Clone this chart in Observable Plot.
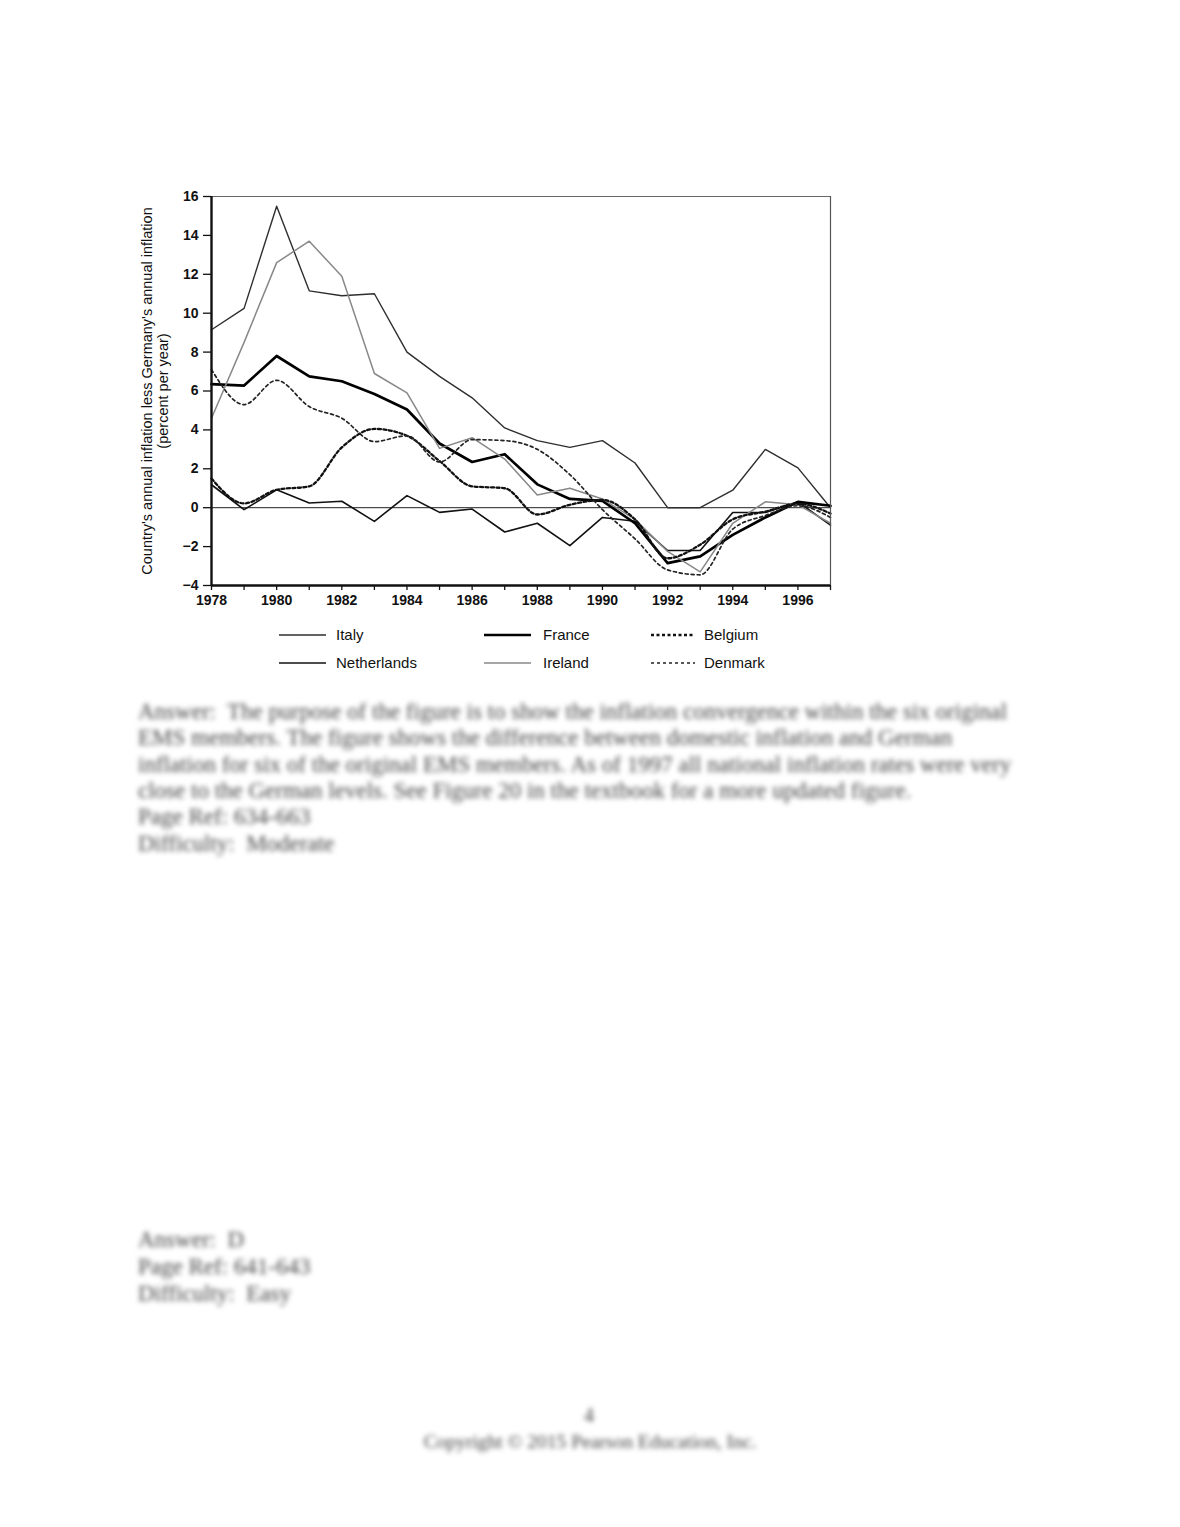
<!DOCTYPE html>
<html><head><meta charset="utf-8">
<script src="https://cdn.jsdelivr.net/npm/d3@7"></script>
<script src="https://cdn.jsdelivr.net/npm/@observablehq/plot@0.6"></script>
<style>
body{margin:0;background:#fff;width:1180px;height:1527px;position:relative;overflow:hidden;font-family:"Liberation Sans",Arial,sans-serif;}
#chart{position:absolute;left:0;top:0;}
.leg{position:absolute;font-size:15px;color:#111;white-space:nowrap;line-height:18px;}
.leg svg{position:absolute;}
.blur{position:absolute;font-family:"Liberation Serif","Times New Roman",serif;font-size:23px;line-height:26px;color:#444;filter:blur(2.6px);white-space:nowrap;}
</style></head>
<body>
<div id="chart"></div>
<div id="legend"></div>
<div class="blur" style="left:138px;top:699px">Answer:&nbsp; The purpose of the figure is to show the inflation convergence within the six original</div>
<div class="blur" style="left:138px;top:725px">EMS members. The figure shows the difference between domestic inflation and German</div>
<div class="blur" style="left:138px;top:752px">inflation for six of the original EMS members. As of 1997 all national inflation rates were very</div>
<div class="blur" style="left:138px;top:778px">close to the German levels. See Figure 20 in the textbook for a more updated figure.</div>
<div class="blur" style="left:138px;top:804px">Page Ref: 634-663</div>
<div class="blur" style="left:138px;top:831px">Difficulty:&nbsp; Moderate</div>
<div class="blur" style="left:138px;top:1227px">Answer:&nbsp; D</div>
<div class="blur" style="left:138px;top:1254px">Page Ref: 641-643</div>
<div class="blur" style="left:138px;top:1281px">Difficulty:&nbsp; Easy</div>
<div class="blur" style="left:584px;top:1402px;font-size:20px">4</div>
<div class="blur" style="left:0;width:1180px;text-align:center;top:1429px;font-size:19.5px">Copyright © 2015 Pearson Education, Inc.</div>
<script>
const years = d3.range(1978, 1998);
const italy       = [9.15, 10.25, 15.5, 11.15, 10.9, 11.0, 8.0, 6.75, 5.65, 4.1, 3.45, 3.1, 3.45, 2.3, 0.0, 0.0, 0.9, 3.0, 2.05, 0.0];
const netherlands = [1.18, -0.1, 0.92, 0.24, 0.33, -0.7, 0.62, -0.24, -0.07, -1.25, -0.8, -1.95, -0.5, -0.7, -2.2, -2.2, -0.25, -0.25, 0.3, -0.9];
const france      = [6.35, 6.28, 7.8, 6.75, 6.5, 5.85, 5.05, 3.3, 2.35, 2.75, 1.2, 0.45, 0.35, -0.8, -2.85, -2.5, -1.4, -0.5, 0.3, 0.1];
const ireland     = [4.6, 8.5, 12.6, 13.7, 11.9, 6.9, 5.9, 3.05, 3.6, 2.5, 0.65, 1.0, 0.45, -0.6, -2.25, -3.3, -0.8, 0.3, 0.15, -0.8];
const belgium     = [1.5, 0.22, 0.92, 1.1, 3.1, 4.05, 3.7, 2.4, 1.1, 1.0, -0.35, 0.15, 0.4, -0.6, -2.6, -1.9, -0.6, -0.2, 0.2, -0.3];
const denmark     = [7.1, 5.3, 6.55, 5.2, 4.6, 3.4, 3.7, 2.35, 3.5, 3.45, 3.0, 1.7, -0.1, -1.6, -3.2, -3.45, -1.1, -0.4, 0.1, -0.5];
const yTicks = d3.range(-4, 17, 2);
const xLabelYears = d3.range(1978, 1998, 2);
const yLabel1 = "Country's annual inflation less Germany's annual inflation";
const yLabel2 = "(percent per year)";

const series = [
  {name: "Italy", values: italy, stroke: "#2e2e2e", width: 1.4, dash: null, curve: "linear"},
  {name: "Netherlands", values: netherlands, stroke: "#111", width: 1.6, dash: null, curve: "linear"},
  {name: "France", values: france, stroke: "#000", width: 2.7, dash: null, curve: "linear"},
  {name: "Ireland", values: ireland, stroke: "#888", width: 1.5, dash: null, curve: "linear"},
  {name: "Belgium", values: belgium, stroke: "#111", width: 2.3, dash: "3,2.5", curve: "monotone-x"},
  {name: "Denmark", values: denmark, stroke: "#222", width: 1.7, dash: "3,3", curve: "monotone-x"}
];
const table = series.map(s => s.values.map((v, i) => ({country: s.name, year: years[i], value: v})));

const chart = Plot.plot({
  width: 1180,
  height: 620,
  marginLeft: 211,
  marginRight: 350,
  marginTop: 196,
  marginBottom: 35,
  style: {fontFamily: "'Liberation Sans', Arial, sans-serif", fontSize: "14px", color: "#111", background: "transparent"},
  x: {domain: [1978, 1997]},
  y: {domain: [-4, 16]},
  marks: [
    Plot.ruleY([0], {stroke: "#222", strokeWidth: 1}),
    ...series.map((s, k) => Plot.line(table[k], {
      x: "year", y: "value", stroke: s.stroke, strokeWidth: s.width,
      strokeDasharray: s.dash, curve: s.curve, strokeLinejoin: "round"
    })),
    Plot.ruleY([16], {stroke: "#666", strokeWidth: 1}),
    Plot.ruleX([1997], {stroke: "#555", strokeWidth: 1.2}),
    Plot.ruleX([1978], {stroke: "#111", strokeWidth: 2.4}),
    Plot.ruleY([-4], {stroke: "#111", strokeWidth: 2.4}),
    Plot.axisX({ticks: years, tickSize: 5, tickPadding: 5, strokeWidth: 1.3,
      tickFormat: d => (xLabelYears.includes(d) ? String(d) : ""), label: null,
      fontWeight: "bold", fontSize: 14}),
    Plot.axisY({ticks: yTicks, tickSize: 8, tickPadding: 5, strokeWidth: 1.3,
      tickFormat: d => (d < 0 ? "\u2212" + Math.abs(d) : String(d)), label: null,
      fontWeight: "bold", fontSize: 14}),
    Plot.text([yLabel1], {frameAnchor: "left", rotate: -90, dx: -64, textAnchor: "middle", fontSize: 14.5, fill: "#111"}),
    Plot.text([yLabel2], {frameAnchor: "left", rotate: -90, dx: -48, textAnchor: "middle", fontSize: 14.5, fill: "#111"})
  ]
});
document.getElementById("chart").appendChild(chart);

// legend
const legendPos = [
  {name: "Italy", sx: 279, sw: 47, lx: 336, y: 635},
  {name: "France", sx: 484, sw: 47, lx: 543, y: 635},
  {name: "Belgium", sx: 651, sw: 44, lx: 704, y: 635},
  {name: "Netherlands", sx: 279, sw: 47, lx: 336, y: 663},
  {name: "Ireland", sx: 484, sw: 47, lx: 543, y: 663},
  {name: "Denmark", sx: 651, sw: 44, lx: 704, y: 663}
];
const legend = document.getElementById("legend");
legendPos.forEach(p => {
  const s = series.find(d => d.name === p.name);
  const div = document.createElement("div");
  div.className = "leg";
  div.style.left = "0px"; div.style.top = "0px";
  div.innerHTML =
    `<svg style="left:${p.sx}px;top:${p.y - 5}px" width="${p.sw}" height="10"><line x1="0" x2="${p.sw}" y1="5" y2="5" stroke="${s.stroke}" stroke-width="${s.width}" ${s.dash ? `stroke-dasharray="${s.dash}"` : ""}/></svg>` +
    `<span style="position:absolute;left:${p.lx}px;top:${p.y - 9}px">${p.name}</span>`;
  legend.appendChild(div);
});
</script>
</body></html>
